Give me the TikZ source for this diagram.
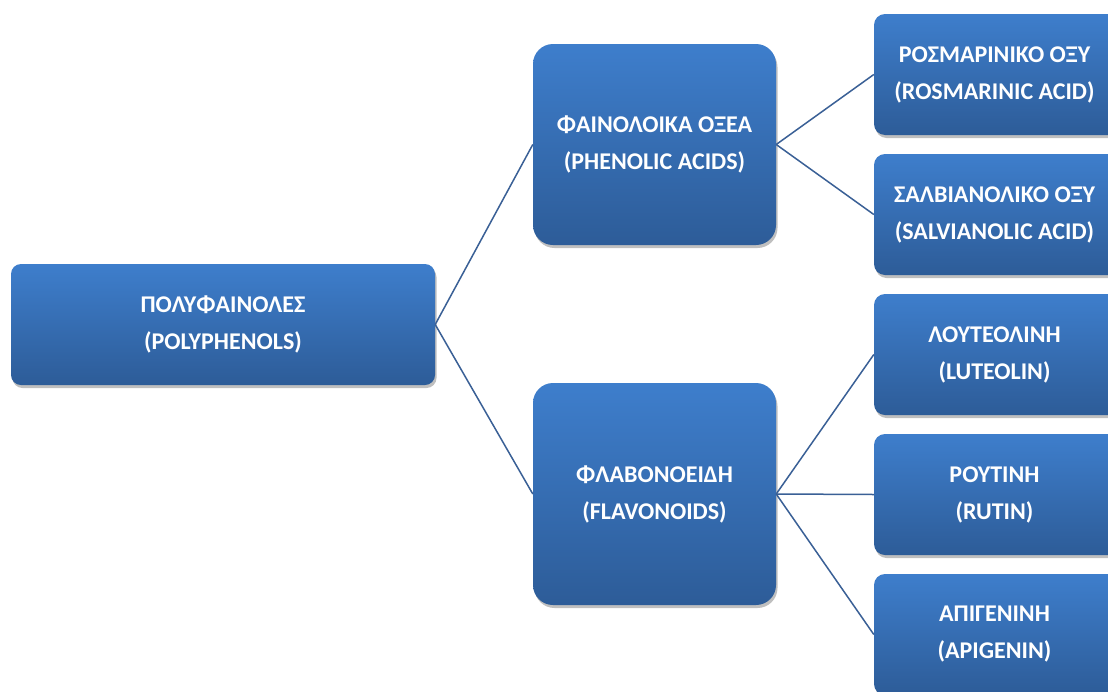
\documentclass[tikz,border=0pt]{standalone}
\usepackage{fontspec}
\setmainfont{Carlito}
\usetikzlibrary{shadows}
\definecolor{boxtop}{RGB}{62,126,204}
\definecolor{boxbot}{RGB}{45,92,152}
\definecolor{linkc}{RGB}{58,96,150}
\tikzset{
  box/.style={rectangle, top color=boxtop, bottom color=boxbot, draw=none,
    text=white, align=center, inner sep=0pt,
    font=\fontsize{24}{37}\selectfont\bfseries,
    drop shadow={shadow xshift=1.5pt, shadow yshift=-3pt, opacity=0.25, fill=black}},
  rootbox/.style={box, rounded corners=10pt, minimum width=424pt, minimum height=121pt},
  midbox/.style={box, rounded corners=20pt, minimum width=243pt, minimum height=201pt},
  leafbox/.style={box, rounded corners=11pt, minimum width=246pt, minimum height=121pt},
  link/.style={draw=linkc, line width=1.5pt}
}
\begin{document}
\begin{tikzpicture}[x=1pt,y=-1pt]
\useasboundingbox (0,0) rectangle (1108,691);
\clip (0,0) rectangle (1108,691);
\fill[white] (0,0) rectangle (1108,691);
\node[rootbox] (root) at (223,324.5) {ΠΟΛΥΦΑΙΝΟΛΕΣ\\(POLYPHENOLS)};
\node[midbox] (phen) at (654.5,144.5) {ΦΑΙΝΟΛΟΙΚΑ ΟΞΕΑ\\(PHENOLIC ACIDS)};
\node[midbox, minimum height=222pt] (flav) at (654.5,494) {ΦΛΑΒΟΝΟΕΙΔΗ\\(FLAVONOIDS)};
\node[leafbox] (ros) at (997,74.5) {\hspace*{-5pt}ΡΟΣΜΑΡΙΝΙΚΟ ΟΞΥ\\\hspace*{-5pt}(ROSMARINIC ACID)};
\node[leafbox] (sal) at (997,214.5) {\hspace*{-5pt}ΣΑΛΒΙΑΝΟΛΙΚΟ ΟΞΥ\\\hspace*{-5pt}(SALVIANOLIC ACID)};
\node[leafbox] (lut) at (997,354.5) {\hspace*{-5pt}ΛΟΥΤΕΟΛΙΝΗ\\\hspace*{-5pt}(LUTEOLIN)};
\node[leafbox] (rut) at (997,494.5) {\hspace*{-5pt}ΡΟΥΤΙΝΗ\\\hspace*{-5pt}(RUTIN)};
\node[leafbox] (api) at (997,634.5) {\hspace*{-5pt}ΑΠΙΓΕΝΙΝΗ\\\hspace*{-5pt}(APIGENIN)};
\draw[link] (root.east) -- (phen.west);
\draw[link] (root.east) -- (flav.west);
\draw[link] (phen.east) -- (ros.west);
\draw[link] (phen.east) -- (sal.west);
\draw[link] (flav.east) -- (lut.west);
\draw[link] (flav.east) -- (rut.west);
\draw[link] (flav.east) -- (api.west);
\end{tikzpicture}
\end{document}
